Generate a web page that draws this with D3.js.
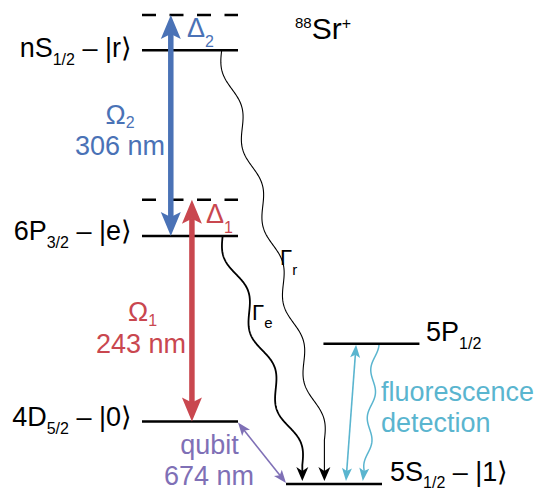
<!DOCTYPE html>
<html><head><meta charset="utf-8">
<script src="https://cdn.jsdelivr.net/npm/d3@7"></script>
<style>
body{margin:0;background:#fff}
svg{display:block;background:#fff}
text{font-family:"Liberation Sans",Arial,Helvetica,sans-serif}
</style>
</head><body>
<svg id="c" width="540" height="491"></svg>
<script>
// ---------- data (schematic energy-level diagram of 88Sr+) ----------
const levelNames   = ["nS", "6P", "4D", "5P", "5S"];
const levelSubs    = ["1/2", "3/2", "5/2", "1/2", "1/2"];
const levelKets    = ["r", "e", "0", "", "1"];
const levelEnergy  = [92.5, 52.9, 13.3, 29.9, 0];   // schematic energy units
const levelStart   = [0, 0, 0, 1.89, 1.5];           // schematic horizontal column start
const virtualEnergy = [100, 60.6];                   // detuned virtual levels (above nS, above 6P)

// lasers: symbol, subscript, wavelength, lower level energy, upper energy, horizontal position
const laserSym   = ["Ω", "Ω"];
const laserSub   = ["2", "1"];
const laserNm    = ["306 nm", "243 nm"];
const laserLow   = [52.9, 13.3];
const laserHigh  = [100, 60.6];
const laserPos   = [0.30, 0.52];
const detuneSub  = ["2", "1"];

// spontaneous decays Γ
const decaySub   = ["e", "r"];
const decayFrom  = [52.9, 92.5];
const decayFromX = [0.84, 0.83];
const decayToX   = [1.67, 1.90];

// qubit transition 4D5/2 <-> 5S1/2
const qubitText = ["qubit", "674 nm"];
// fluorescence detection 5S <-> 5P
const fluoText = ["fluorescence", "detection"];

// ---------- styles ----------
const C = {blue:"#4a72b6", red:"#c9474f", purple:"#7f70b6", cyan:"#5ab5cf", black:"#000"};
const laserColor = [C.blue, C.red];

const svg = d3.select("#c");
const W = 540, H = 491;
svg.append("rect").attr("width", W).attr("height", H).attr("fill", "#fff");

const y = d3.scaleLinear().domain([0, 100]).range([484, 15]);
const x = d3.scaleLinear().domain([0, 1]).range([142, 238]);
const LW = 1; // level width in schematic units

// ---------- helpers ----------
function head(g, tip, dir, L, Wd, notch, color) {
  const [ux, uy] = dir, px = -uy, py = ux;
  const bx = tip[0] - ux * L, by = tip[1] - uy * L;
  const pts = [
    tip,
    [bx + px * Wd / 2, by + py * Wd / 2],
    [tip[0] - ux * (L - notch), tip[1] - uy * (L - notch)],
    [bx - px * Wd / 2, by - py * Wd / 2]
  ];
  g.append("path").attr("d", "M" + pts.map(p => p.join(",")).join("L") + "Z").attr("fill", color);
}
function unit(a, b) { const dx = b[0]-a[0], dy = b[1]-a[1], l = Math.hypot(dx, dy); return [dx/l, dy/l]; }
function arrow(g, p0, p1, o) {
  const u = unit(p0, p1);
  const back = o.L - o.notch - 0.5;
  const s = o.both ? [p0[0] + u[0]*back, p0[1] + u[1]*back] : p0;
  const e = [p1[0] - u[0]*back, p1[1] - u[1]*back];
  g.append("line").attr("x1", s[0]).attr("y1", s[1]).attr("x2", e[0]).attr("y2", e[1])
    .attr("stroke", o.color).attr("stroke-width", o.w);
  head(g, p1, u, o.L, o.W, o.notch, o.color);
  if (o.both) head(g, p0, [-u[0], -u[1]], o.L, o.W, o.notch, o.color);
}
function wave(p0, p1, k, A, phase, n = 300) {
  const dx = p1[0]-p0[0], dy = p1[1]-p0[1], L = Math.hypot(dx, dy);
  const nx = dy / L, ny = -dx / L;
  return d3.range(n + 1).map(i => {
    const t = i / n, o = A * Math.sin(2 * Math.PI * k * t + phase);
    return [p0[0] + dx * t + nx * o, p0[1] + dy * t + ny * o];
  });
}
function rich(x0, y0, parts, anchor, color) {
  const t = svg.append("text").attr("x", x0).attr("y", y0)
    .attr("text-anchor", anchor || "start").attr("fill", color || "#000");
  let cur = 0;
  parts.forEach(p => {
    const d = (p.dy || 0);
    t.append("tspan").attr("font-size", p.size).attr("dy", d - cur).text(p.t);
    cur = d;
  });
  return t;
}
const line = d3.line();

// ---------- levels ----------
const gl = svg.append("g");
levelNames.forEach((nm, i) => {
  gl.append("line")
    .attr("x1", x(levelStart[i])).attr("x2", x(levelStart[i] + LW))
    .attr("y1", y(levelEnergy[i])).attr("y2", y(levelEnergy[i]))
    .attr("stroke", "#000").attr("stroke-width", 2.5);
});
virtualEnergy.forEach(e => {
  gl.append("line")
    .attr("x1", x(0)).attr("x2", x(LW)).attr("y1", y(e)).attr("y2", y(e))
    .attr("stroke", "#000").attr("stroke-width", 2.5).attr("stroke-dasharray", "14,13.5");
});

// ---------- lasers ----------
const ga = svg.append("g");
laserSym.forEach((s, i) => {
  arrow(ga, [x(laserPos[i]), y(laserLow[i])], [x(laserPos[i]), y(laserHigh[i])],
    {both: true, color: laserColor[i], w: 5.5, L: 24, W: 20, notch: 5});
});

// ---------- decays ----------
const tipY = y(0) - 3;
decaySub.forEach((s, i) => {
  const p0 = [x(decayFromX[i]), y(decayFrom[i])];
  const tip = [x(decayToX[i]), tipY];
  const endWave = i === 0 ? [tip[0], 465] : [tip[0], 440];
  const k = i === 0 ? 3 : 5, A = i === 0 ? 6 : 5;
  const pts = wave(p0, endWave, k, A, Math.PI);
  pts.push([tip[0], tip[1] - 10]);
  ga.append("path").attr("d", line(pts)).attr("fill", "none")
    .attr("stroke", "#000").attr("stroke-width", i === 0 ? 1.8 : 1.1);
  head(ga, tip, [0, 1], 14, 12, 4, "#000");
});

// ---------- qubit transition ----------
arrow(ga, [x(LW), y(13.3) + 1], [x(1.5), y(0) - 1], {both: true, color: C.purple, w: 1.6, L: 13, W: 10, notch: 3});

// ---------- fluorescence ----------
arrow(ga, [x(2.23), y(29.9) + 1], [x(2.125), tipY], {both: true, color: C.cyan, w: 1.6, L: 13, W: 10, notch: 3});
{
  const pts = wave([x(2.435), y(29.9) + 1], [x(2.34), 470], 2.6, 3.2, Math.PI / 2);
  const last = pts[pts.length - 1];
  const tip = [x(2.30), tipY];
  const u = unit(last, tip);
  pts.push([tip[0] - u[0] * 9, tip[1] - u[1] * 9]);
  ga.append("path").attr("d", line(pts)).attr("fill", "none").attr("stroke", C.cyan).attr("stroke-width", 1.5);
  head(ga, tip, u, 13, 10, 3, C.cyan);
}

// ---------- text ----------
const F = 27, FS = 16;
const leftBase = [57, 240, 426];
[0, 1, 2].forEach(i => {
  rich(132, leftBase[i], [
    {t: levelNames[i], size: F},
    {t: levelSubs[i], size: FS, dy: 8},
    {t: " – |" + levelKets[i] + "⟩", size: F}
  ], "end");
});
rich(426, 341, [{t: levelNames[3], size: F}, {t: levelSubs[3], size: FS, dy: 8}]);
rich(390, 481, [{t: levelNames[4], size: F}, {t: levelSubs[4], size: FS, dy: 7},
  {t: " – |" + levelKets[4] + "⟩", size: F}]);

rich(295, 39, [{t: "88", size: 15, dy: -11}, {t: "Sr", size: 30, dy: 0}, {t: "+", size: 16, dy: -10}]);

// laser labels
rich(120, 124, [{t: laserSym[0], size: F}, {t: laserSub[0], size: FS, dy: 4}], "middle", C.blue);
rich(120, 155, [{t: laserNm[0], size: F}], "middle", C.blue);
rich(128, 321, [{t: laserSym[1], size: F}, {t: laserSub[1], size: FS, dy: 5}], "start", C.red);
rich(141, 353, [{t: laserNm[1], size: F}], "middle", C.red);
rich(187, 37, [{t: "Δ", size: F}, {t: detuneSub[0], size: FS, dy: 10}], "start", C.blue);
rich(206, 223, [{t: "Δ", size: F}, {t: detuneSub[1], size: FS, dy: 10}], "start", C.red);

// decay labels
rich(252, 320, [{t: "Γ", size: 22}, {t: decaySub[0], size: 15, dy: 8}]);
rich(280, 265, [{t: "Γ", size: 22}, {t: decaySub[1], size: 15, dy: 10}]);

// qubit / fluorescence labels
rich(209.5, 454, [{t: qubitText[0], size: F}], "middle", C.purple);
rich(209, 485, [{t: qubitText[1], size: F}], "middle", C.purple);
rich(381, 401, [{t: fluoText[0], size: F}], "start", C.cyan);
rich(381, 432, [{t: fluoText[1], size: F}], "start", C.cyan);
</script>
</body></html>
